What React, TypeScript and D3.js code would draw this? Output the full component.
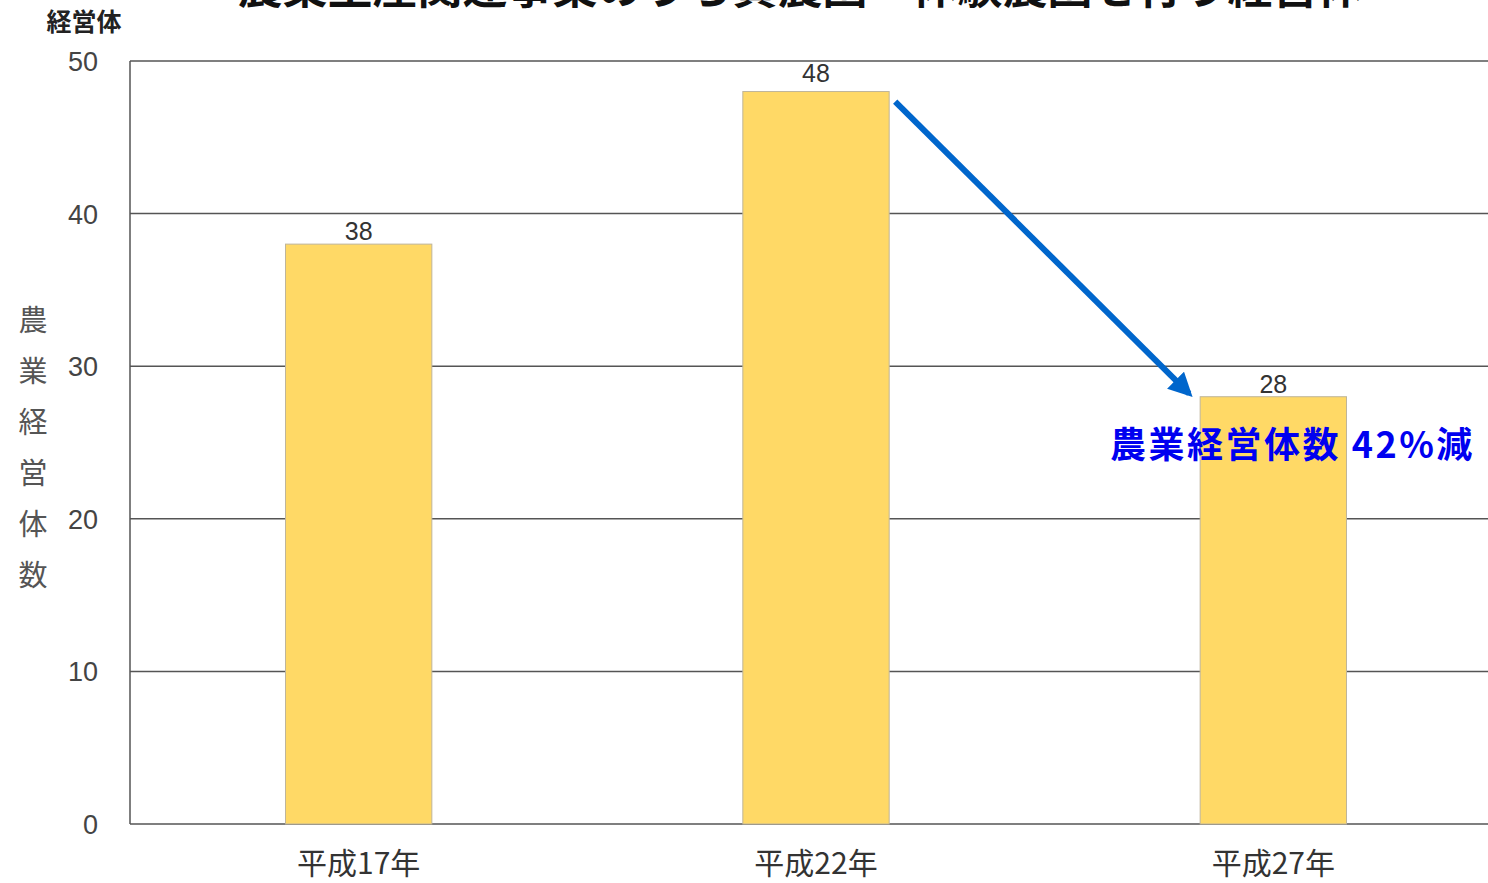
import React from "react";
import * as d3 from "d3";

const years = ["平成17年", "平成22年", "平成27年"];
const counts = [38, 48, 28];
const yTicks = [0, 10, 20, 30, 40, 50];
const title = "農業生産関連事業のうち貸農園・体験農園を行う経営体";
const yLabel = "農業経営体数";
const unitLabel = "経営体";
const note = "農業経営体数 42%減";

const W = 1488;
const H = 883;
const left = 130;
const right = 1502;
const top = 61;
const bottom = 824;
const font = "'Noto Sans CJK JP', 'Liberation Sans', sans-serif";

const App = () => {
  const x = d3
    .scaleBand<string>()
    .domain(years)
    .range([left, right])
    .paddingInner(0.68)
    .paddingOuter(0.34);
  const y = d3.scaleLinear().domain([0, 50]).range([bottom, top]);

  // arrow from top-right of 2nd bar to top-left of 3rd bar
  const x0 = (x(years[1]) ?? 0) + x.bandwidth() + 6;
  const y0 = y(counts[1]) + 10;
  const x1 = (x(years[2]) ?? 0) - 11;
  const y1 = y(counts[2]) - 3;

  return (
    <div style={{ position: "absolute", left: 0, top: 0 }}>
      <svg width={W} height={H} style={{ display: "block", background: "#fff" }}>
        <defs>
          <marker id="head" viewBox="0 0 10 10" refX="8" refY="5" markerWidth="4" markerHeight="4" orient="auto">
            <path d="M0,0 L10,5 L0,10 z" fill="#0066CC" />
          </marker>
        </defs>
        <text x={800} y={4} textAnchor="middle" fontFamily={font} fontSize={45} fontWeight="bold" fill="#111">
          {title}
        </text>
        <text x={84} y={31} textAnchor="middle" fontFamily={font} fontSize={25} fontWeight="bold" fill="#222">
          {unitLabel}
        </text>
        {yLabel.split("").map((c, i) => (
          <text key={i} x={33} y={331 + i * 51} textAnchor="middle" fontFamily={font} fontSize={29} fill="#555">
            {c}
          </text>
        ))}
        {yTicks.map((t) => (
          <g key={t}>
            <line x1={left} x2={right} y1={y(t)} y2={y(t)} stroke="#555" strokeWidth={1.5} />
            <text x={98} y={y(t) + 10} textAnchor="end" fontFamily="'Liberation Sans', sans-serif" fontSize={27} fill="#444">
              {t}
            </text>
          </g>
        ))}
        <line x1={left} x2={left} y1={top} y2={bottom} stroke="#555" strokeWidth={1.5} />
        {years.map((yr, i) => (
          <g key={yr}>
            <rect
              x={x(yr)}
              y={y(counts[i])}
              width={x.bandwidth()}
              height={bottom - y(counts[i])}
              fill="#FFD966"
              stroke="#bfb59a"
              strokeWidth={1}
            />
            <text
              x={(x(yr) ?? 0) + x.bandwidth() / 2}
              y={y(counts[i]) - (counts[i] === 48 ? 10 : 4)}
              textAnchor="middle"
              fontFamily="'Liberation Sans', sans-serif"
              fontSize={25}
              fill="#333"
            >
              {counts[i]}
            </text>
            <text
              x={(x(yr) ?? 0) + x.bandwidth() / 2}
              y={874}
              textAnchor="middle"
              fontFamily={font}
              fontSize={30}
              fill="#333"
            >
              {yr}
            </text>
          </g>
        ))}
        <line x1={x0} y1={y0} x2={x1} y2={y1} stroke="#0066CC" strokeWidth={6} markerEnd="url(#head)" />
        <text x={1110} y={458} fontFamily={font} fontSize={36} fontWeight="bold" fill="#0000F0" letterSpacing={2.5}>
          {note}
        </text>
      </svg>
    </div>
  );
};

export default App;
